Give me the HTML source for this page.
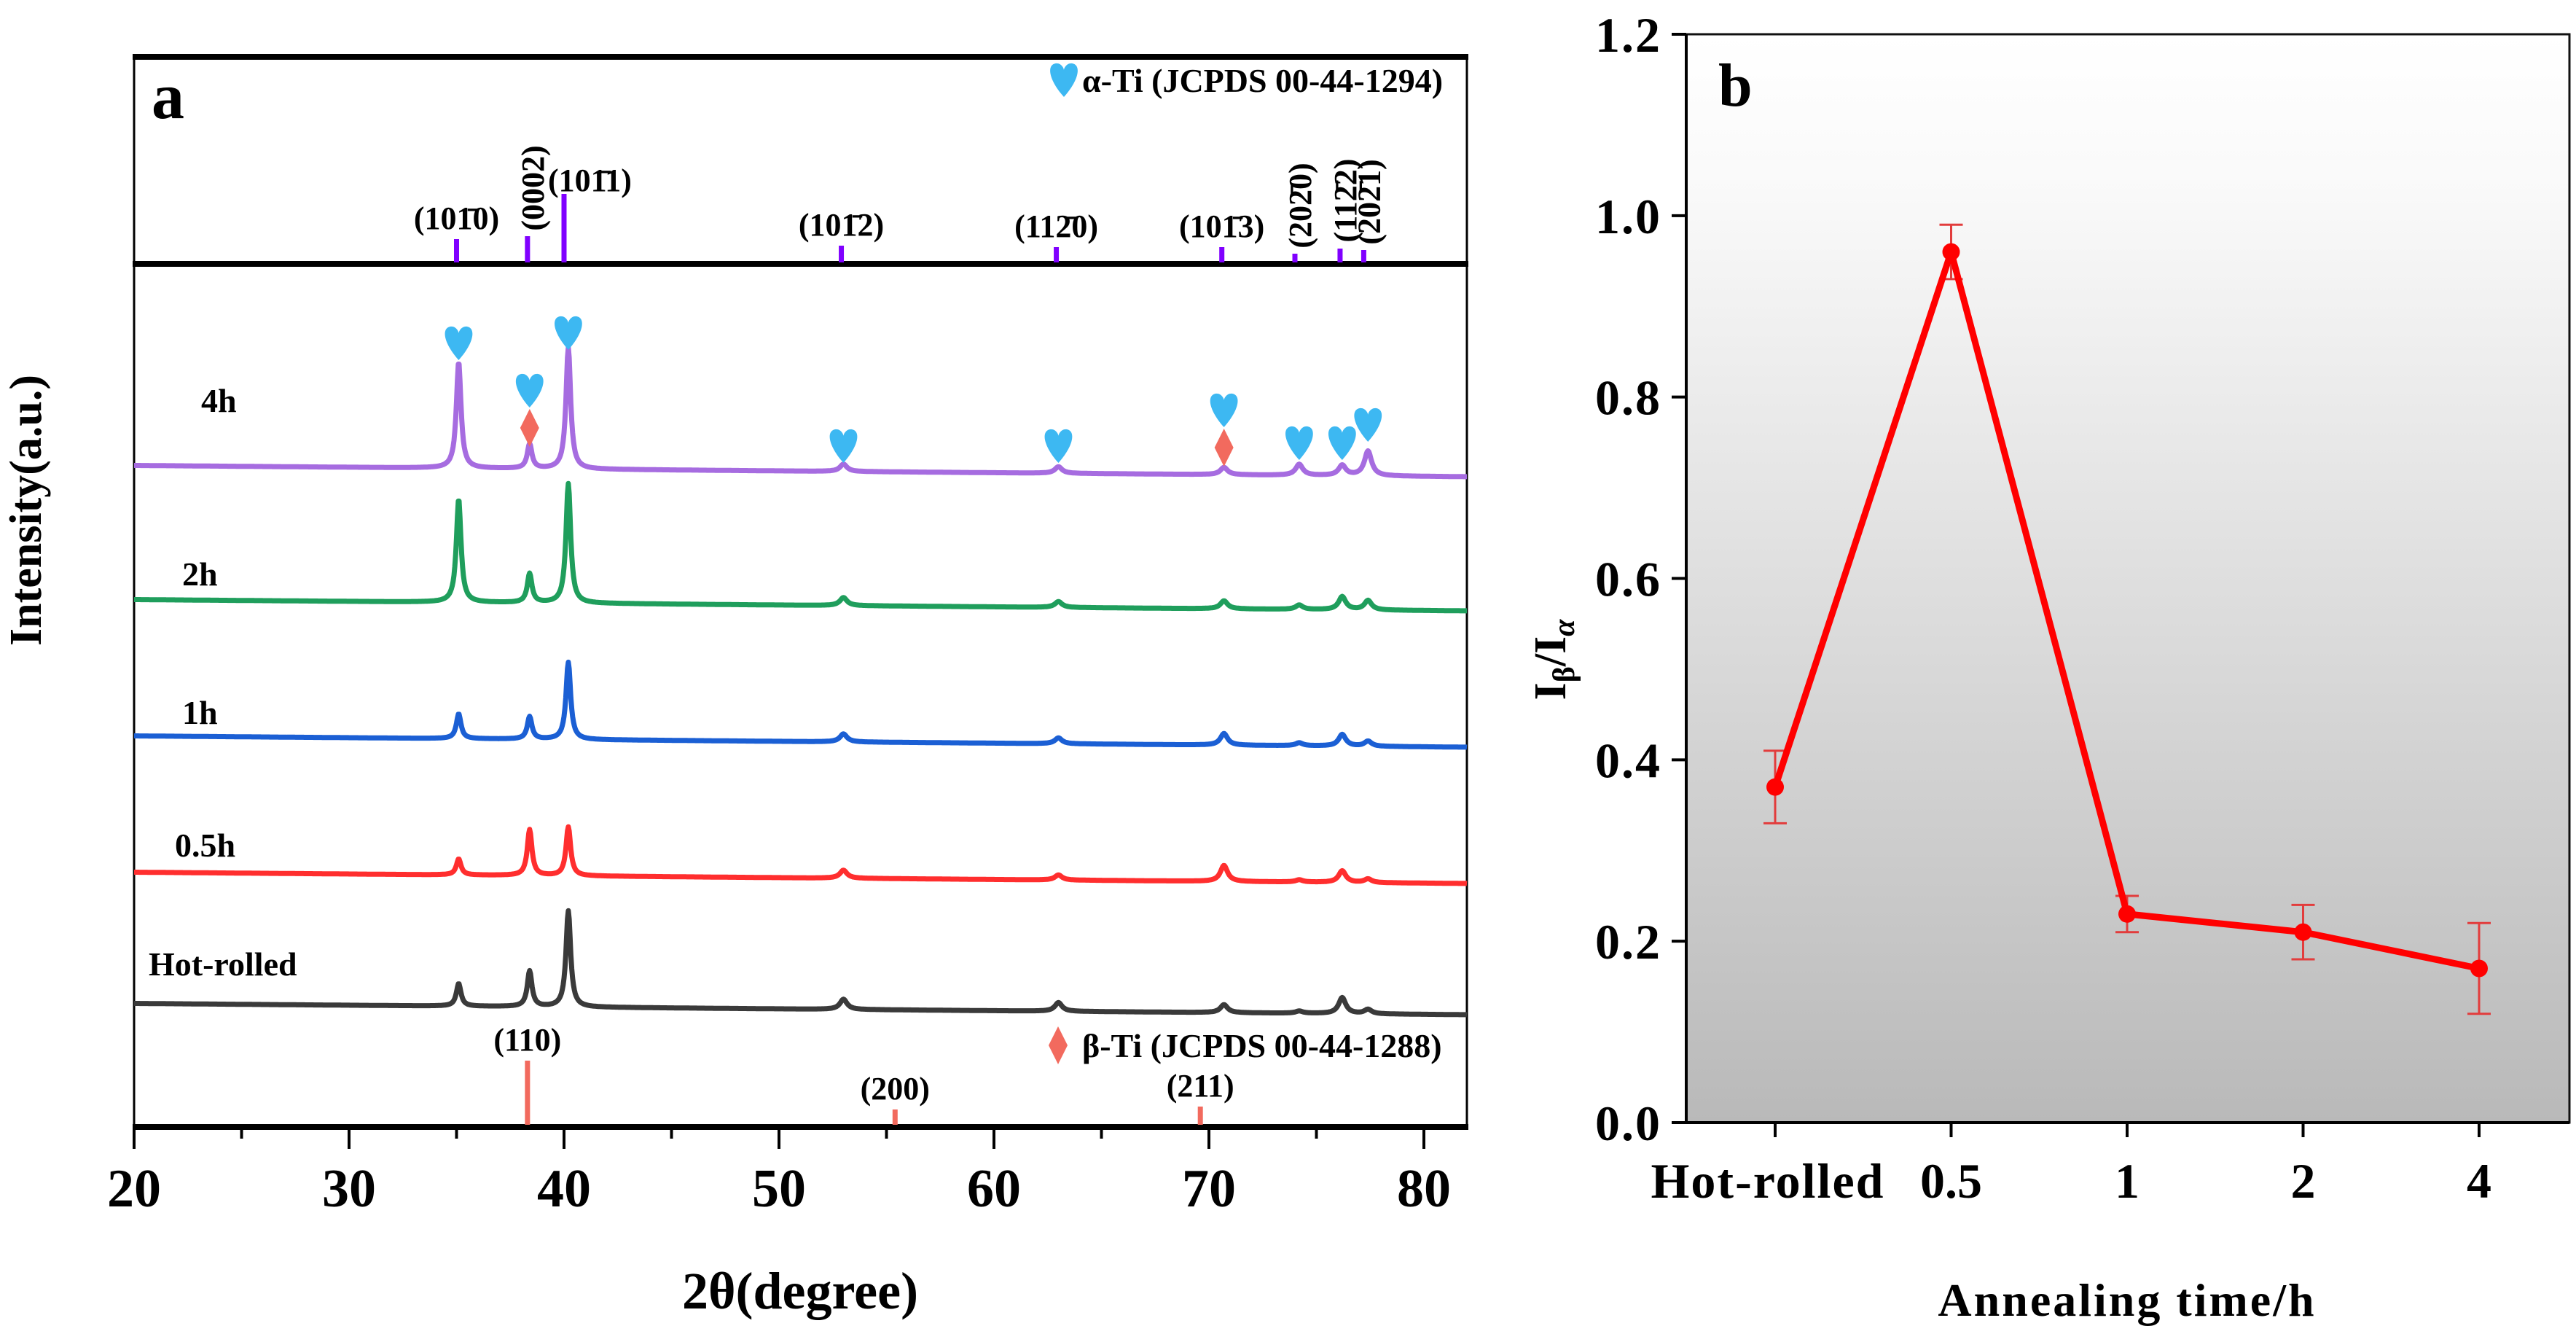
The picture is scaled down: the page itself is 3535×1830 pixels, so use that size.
<!DOCTYPE html>
<html><head><meta charset="utf-8"><style>
html,body{margin:0;padding:0;background:#fff;}
svg{display:block;font-family:"Liberation Serif",serif;font-weight:bold;}
</style></head><body>
<svg id="fig" width="3535" height="1830" viewBox="0 0 3535 1830" xmlns="http://www.w3.org/2000/svg">
<defs>
<linearGradient id="bg" x1="0" y1="0" x2="0" y2="1">
<stop offset="0" stop-color="#ffffff"/><stop offset="0.15" stop-color="#f9f9f9"/><stop offset="1" stop-color="#b9b9b9"/>
</linearGradient>
</defs>
<g id="chartA"></g>
<g id="chartB"></g>
</svg>
<script>
// ---- Chart A data ----
const peakPos = [35.1, 38.4, 40.2, 53.0, 63.0, 70.7, 74.2, 76.2, 77.4];
const seriesNames = ["4h", "2h", "1h", "0.5h", "Hot-rolled"];
const h4 = [146, 34, 167, 10, 9, 10, 15, 14, 34];
const h2 = [142, 40, 164, 11, 8, 11, 6, 18, 13];
const h1 = [34, 31, 106, 11, 8, 16, 4, 16, 7];
const h05 = [22, 63, 67, 11, 7, 22, 3, 16, 5];
const hHR = [31, 49, 132, 14, 12, 11, 3, 22, 6];
const alphaRefPos = [35.0, 38.3, 40.0, 52.9, 62.9, 70.6, 74.0, 76.1, 77.2];
const alphaRefInt = [32, 36, 94, 23, 21, 21, 12, 19, 17];
const alphaLabels = ["(101\u03040)", "(0002)", "(101\u03041)", "(101\u03042)", "(112\u03040)", "(101\u03043)", "(202\u03040)", "(112\u03042)", "(202\u03041)"];
const betaRefPos = [38.3, 55.4, 69.6];
const betaRefInt = [88, 21, 25];
const betaLabels = ["(110)", "(200)", "(211)"];
const xTicks = [20, 30, 40, 50, 60, 70, 80];
// ---- Chart B data ----
const catLabels = ["Hot-rolled", "0.5", "1", "2", "4"];
const ratioVals = [0.37, 0.96, 0.23, 0.21, 0.17];
const ratioErr = [0.04, 0.03, 0.02, 0.03, 0.05];
const yTicksB = [0.0, 0.2, 0.4, 0.6, 0.8, 1.0, 1.2];

const NS = "http://www.w3.org/2000/svg";
function mk(parent, tag, attrs, text) {
  const e = document.createElementNS(NS, tag);
  for (const k in attrs) e.setAttribute(k, attrs[k]);
  if (text !== undefined) e.textContent = text;
  parent.appendChild(e);
  return e;
}
const A = document.getElementById("chartA");
const xL = 184, xR = 2013;
const X = d => xL + (d - 20) * 29.5;

let e;
e = mk(A, "rect", {x: xL, y: 78, width: xR - xL, height: 1546 - 78, fill: "none", stroke: "#000", "stroke-width": 3});
 
e = mk(A, "line", {x1: xL - 2, x2: xR + 2, y1: 78, y2: 78, stroke: "#000", "stroke-width": 8});
 
e = mk(A, "line", {x1: xL - 2, x2: xR + 2, y1: 362, y2: 362, stroke: "#000", "stroke-width": 8});
 
e = mk(A, "line", {x1: xL - 2, x2: xR + 2, y1: 1546, y2: 1546, stroke: "#000", "stroke-width": 8});
 

for (let d = 20; d <= 82; d += 5) {
  const major = d % 10 === 0;
  e = mk(A, "line", {x1: X(d), x2: X(d), y1: 1546, y2: major ? 1576 : 1562, stroke: "#000", "stroke-width": 4});
   
}
xTicks.forEach(t => {
  e = mk(A, "text", {x: X(t), y: 1655, "font-size": 74, "text-anchor": "middle"}, t);
   
});
e = mk(A, "text", {x: 1098, y: 1795, "font-size": 72, "text-anchor": "middle"}, "2\u03B8(degree)");
 
e = mk(A, "text", {x: 0, y: 0, "font-size": 62, "text-anchor": "middle", transform: "translate(56,700) rotate(-90)"}, "Intensity(a.u.)");
 
e = mk(A, "text", {x: 208, y: 162, "font-size": 90}, "a");
 

function heart(cx, cy, s, name) {
  const w = s * 0.5, hgt = s;
  const d = `M${cx},${cy + hgt / 2} C${cx - w * 0.9},${cy} ${cx - w * 1.05},${cy - hgt * 0.45} ${cx - w * 0.5},${cy - hgt * 0.5} C${cx - w * 0.15},${cy - hgt * 0.52} ${cx},${cy - hgt * 0.35} ${cx},${cy - hgt * 0.3} C${cx},${cy - hgt * 0.35} ${cx + w * 0.15},${cy - hgt * 0.52} ${cx + w * 0.5},${cy - hgt * 0.5} C${cx + w * 1.05},${cy - hgt * 0.45} ${cx + w * 0.9},${cy} ${cx},${cy + hgt / 2} Z`;
  const p = mk(A, "path", {d: d, fill: "#3db8f2"});
   
}
function diamond(cx, cy, name) {
  const p = mk(A, "path", {d: `M${cx},${cy - 26} L${cx + 13},${cy} L${cx},${cy + 26} L${cx - 13},${cy} Z`, fill: "#f26a5e"});
   
}

heart(1460, 110, 46, 'alpha-legend-marker');
e = mk(A, "text", {x: 1485, y: 126, "font-size": 46}, "\u03B1-Ti (JCPDS 00-44-1294)");
 

const rotated = [false, true, false, false, false, false, true, true, true];
alphaRefPos.forEach((p, i) => {
  e = mk(A, "line", {x1: X(p), x2: X(p), y1: 360, y2: 360 - alphaRefInt[i], stroke: "#8000ff", "stroke-width": 7});
   
  if (rotated[i]) {
    const cy = 360 - alphaRefInt[i] - 66;
    e = mk(A, "text", {x: 0, y: 0, "font-size": 44, "text-anchor": "middle", transform: `translate(${X(p) + 22},${cy}) rotate(-90)`}, alphaLabels[i]);
  } else if (i === 2) {
    e = mk(A, "text", {x: X(p) - 22, y: 262, "font-size": 44, "text-anchor": "start"}, alphaLabels[i]);
  } else {
    e = mk(A, "text", {x: X(p), y: 360 - alphaRefInt[i] - 14, "font-size": 44, "text-anchor": "middle"}, alphaLabels[i]);
  }
   
});

diamond(1452, 1434, 'beta-legend-marker');
e = mk(A, "text", {x: 1485, y: 1450, "font-size": 46}, "\u03B2-Ti (JCPDS 00-44-1288)");
 
betaRefPos.forEach((p, i) => {
  e = mk(A, "line", {x1: X(p), x2: X(p), y1: 1543, y2: 1543 - betaRefInt[i], stroke: "#f26a5e", "stroke-width": 7});
   
  e = mk(A, "text", {x: X(p), y: 1543 - betaRefInt[i] - 14, "font-size": 44, "text-anchor": "middle"}, betaLabels[i]);
   
});

const heights = [h4, h2, h1, h05, hHR];
const bases = [646, 830, 1017, 1204, 1384];
const colors = ["#a66ce0", "#1f9e5c", "#1b5fd4", "#ff2e2e", "#3a3a3a"];
const labX = [276, 250, 250, 240, 204];
const labY = [565, 803, 993, 1175, 1338];
heights.forEach((hs, si) => {
  let d = "";
  for (let x = 20; x <= 82.001; x += 0.04) {
    let y = bases[si] + (x - 50) * 0.25;
    peakPos.forEach((p, k) => {
      const w = k < 3 ? 0.13 : 0.2;
      y -= hs[k] / (1 + Math.pow((x - p) / w, 2));
    });
    d += (d ? "L" : "M") + X(x).toFixed(1) + "," + y.toFixed(1);
  }
  e = mk(A, "path", {d: d, fill: "none", stroke: colors[si], "stroke-width": 7, "stroke-linejoin": "round"});
  
  
  e = mk(A, "text", {x: labX[si], y: labY[si], "font-size": 46}, seriesNames[si]);
   
});

const heartY = [471, 536, 457, 612, 612, 563, 608, 608, 583];
peakPos.forEach((p, i) => heart(X(p), heartY[i], 46, 'alpha-peak-marker'));
diamond(X(38.4), 587, 'beta-peak-marker');
diamond(X(70.7), 614, 'beta-peak-marker');

// ---- Chart B ----
const B = document.getElementById("chartB");
const bL = 2314, bR = 3526, bT = 47, bB = 1540;
const Y = v => bB - v / 1.2 * (bB - bT);
const CX = i => 2436 + i * 241.5;
e = mk(B, "rect", {x: bL, y: bT, width: bR - bL, height: bB - bT, fill: "url(#bg)", stroke: "#111", "stroke-width": 3});
 
e = mk(B, "line", {x1: bL, x2: bL, y1: bT, y2: bB, stroke: "#000", "stroke-width": 4});
 
e = mk(B, "line", {x1: bL, x2: bR, y1: bB, y2: bB, stroke: "#000", "stroke-width": 4});
 
yTicksB.forEach(t => {
  e = mk(B, "line", {x1: bL - 20, x2: bL, y1: Y(t), y2: Y(t), stroke: "#000", "stroke-width": 4});
   
  e = mk(B, "text", {x: 2280, y: Y(t) + 24, "font-size": 68, "text-anchor": "end", "letter-spacing": 2}, t.toFixed(1));
   
});
catLabels.forEach((c, i) => {
  e = mk(B, "line", {x1: CX(i), x2: CX(i), y1: bB, y2: bB + 20, stroke: "#000", "stroke-width": 4});
   
  const tx = i === 0 ? CX(i) - 10 : CX(i);
  e = mk(B, "text", {x: tx, y: 1643, "font-size": 68, "text-anchor": "middle", "letter-spacing": i === 0 ? 2 : 0}, c);
   
});
e = mk(B, "text", {x: 2919, y: 1805, "font-size": 64, "text-anchor": "middle", "letter-spacing": 3}, "Annealing time/h");
 
e = mk(B, "text", {x: 2358, y: 145, "font-size": 84}, "b");
 
const yt = mk(B, "text", {x: 0, y: 0, "font-size": 62, "text-anchor": "middle", transform: "translate(2148,905) rotate(-90)"});
 
yt.innerHTML = 'I<tspan font-size="42" dy="12">\u03B2</tspan><tspan dy="-12">/I</tspan><tspan font-size="42" dy="12" font-style="italic">\u03B1</tspan>';

ratioVals.forEach((v, i) => {
  const lo = Y(v - ratioErr[i]), hi = Y(v + ratioErr[i]);
  e = mk(B, "path", {d: `M${CX(i)},${lo}L${CX(i)},${hi}M${CX(i) - 16},${lo}L${CX(i) + 16},${lo}M${CX(i) - 16},${hi}L${CX(i) + 16},${hi}`, stroke: "#e23c3c", "stroke-width": 3, fill: "none"});
   
});
let ld = "";
ratioVals.forEach((v, i) => { ld += (i ? "L" : "M") + CX(i) + "," + Y(v); });
e = mk(B, "path", {d: ld, stroke: "#ff0000", "stroke-width": 9, fill: "none", "stroke-linejoin": "round"});
 
ratioVals.forEach((v, i) => {
  e = mk(B, "circle", {cx: CX(i), cy: Y(v), r: 12, fill: "#ff0000"});
   
});
</script>
</body></html>
